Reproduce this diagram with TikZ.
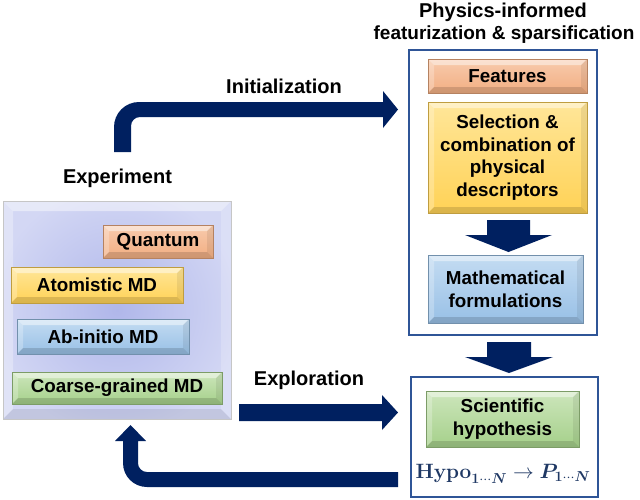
\documentclass[tikz,border=0pt]{standalone}
\usepackage[no-math]{fontspec}
\setmainfont{Liberation Sans}
\usepackage{amsmath,bm}
\definecolor{navy}{HTML}{002060}
\definecolor{framec}{HTML}{2F5597}
\definecolor{formc}{HTML}{1F3864}
\definecolor{orgA}{HTML}{F8CBAD}\definecolor{orgB}{HTML}{F2AE82}
\definecolor{yelA}{HTML}{FFE699}\definecolor{yelB}{HTML}{FFD256}
\definecolor{bluA}{HTML}{C4DCF2}\definecolor{bluB}{HTML}{98C0E6}
\definecolor{grnA}{HTML}{CDE6BC}\definecolor{grnB}{HTML}{A5D08A}
\definecolor{lavA}{HTML}{B0B7EA}\definecolor{lavB}{HTML}{D3D7F4}
\tikzset{
  bevel/.style={line width=.5pt,
    inner sep=0pt, align=center, font=\bfseries\fontsize{18.8}{22.7}\selectfont,
    path picture={
      \fill[white,opacity=.45] (path picture bounding box.north west) -- (path picture bounding box.north east)
        -- ([shift={(-6,6)}]path picture bounding box.north east) -- ([shift={(6,6)}]path picture bounding box.north west) -- cycle;
      \fill[white,opacity=.25] (path picture bounding box.north west) -- (path picture bounding box.south west)
        -- ([shift={(6,-6)}]path picture bounding box.south west) -- ([shift={(6,6)}]path picture bounding box.north west) -- cycle;
      \fill[black,opacity=.07] (path picture bounding box.north east) -- (path picture bounding box.south east)
        -- ([shift={(-6,-6)}]path picture bounding box.south east) -- ([shift={(-6,6)}]path picture bounding box.north east) -- cycle;
      \fill[black,opacity=.14] (path picture bounding box.south west) -- (path picture bounding box.south east)
        -- ([shift={(-6,-6)}]path picture bounding box.south east) -- ([shift={(6,-6)}]path picture bounding box.south west) -- cycle;
    }},
  orangebox/.style={bevel, top color=orgA, bottom color=orgB, draw=orgB!75!black},
  yellowbox/.style={bevel, top color=yelA, bottom color=yelB, draw=yelB!75!black},
  bluebox/.style={bevel, top color=bluA, bottom color=bluB, draw=bluB!75!black},
  greenbox/.style={bevel, top color=grnA, bottom color=grnB, draw=grnB!75!black},
  lavbox/.style={fill=lavB, draw=gray!45, line width=.6pt, inner sep=0pt,
    path picture={
      \shade[inner color=lavA, outer color=lavB] (path picture bounding box.center) circle[radius=125];
      \fill[white,opacity=.45] (path picture bounding box.north west) -- (path picture bounding box.north east)
        -- ([shift={(-10,10)}]path picture bounding box.north east) -- ([shift={(10,10)}]path picture bounding box.north west) -- cycle;
      \fill[white,opacity=.3] (path picture bounding box.north west) -- (path picture bounding box.south west)
        -- ([shift={(10,-10)}]path picture bounding box.south west) -- ([shift={(10,10)}]path picture bounding box.north west) -- cycle;
      \fill[white,opacity=.2] (path picture bounding box.north east) -- (path picture bounding box.south east)
        -- ([shift={(-10,-10)}]path picture bounding box.south east) -- ([shift={(-10,10)}]path picture bounding box.north east) -- cycle;
      \fill[black,opacity=.08] (path picture bounding box.south west) -- (path picture bounding box.south east)
        -- ([shift={(-10,-10)}]path picture bounding box.south east) -- ([shift={(10,-10)}]path picture bounding box.south west) -- cycle;
    }},
  frame/.style={draw=framec, line width=2.6pt, inner sep=0pt},
  lbl/.style={font=\bfseries\fontsize{20}{24}\selectfont, inner sep=0pt},
  blockarrow/.style={fill=navy},
}
\begin{document}
\begin{tikzpicture}[x=1pt,y=-1pt]
\useasboundingbox (0,0) rectangle (640,499);
% titles and labels
\node[lbl] (t1) at (503,12) {Physics-informed};
\node[lbl, font=\bfseries\fontsize{19}{23}\selectfont] (t2) at (504,35) {featurization \& sparsification};
\node[lbl] (init) at (284,86) {Initialization};
\node[lbl] (expl) at (309,380) {Exploration};
\node[lbl] (exp) at (117.5,178) {Experiment};
% experiment box
\node[lavbox, minimum width=228, minimum height=218] (ebox) at (117,310) {};
\node[orangebox, minimum width=110, minimum height=33] (q) at (158,241.5) {Quantum};
\node[yellowbox, minimum width=172, minimum height=36] (am) at (97,285) {Atomistic MD};
\node[bluebox, minimum width=172, minimum height=35] (ab) at (103,336.5) {Ab-initio MD};
\node[greenbox, minimum width=210, minimum height=32] (cg) at (117,388) {Coarse-grained MD};
% right frames
\node[frame, minimum width=188, minimum height=285] (ftop) at (503,192.5) {};
\node[frame, minimum width=187, minimum height=120] (fbot) at (504.5,437) {};
\node[orangebox, minimum width=159, minimum height=34] (feat) at (507.5,76) {Features};
\node[yellowbox, minimum width=159, minimum height=111] (sel) at (507.5,157.5) {Selection \&\\combination of\\physical\\descriptors};
\node[bluebox, minimum width=155, minimum height=68] (math) at (505.5,289) {Mathematical\\formulations};
\node[greenbox, minimum width=153, minimum height=56] (sci) at (502.5,419) {Scientific\\hypothesis};
\node[text=formc, font=\fontsize{20}{24}\selectfont, inner sep=0pt] (hyp) at (503,474)
  {$\mathbf{Hypo}_{\mathbf{1}\cdots\bm{N}}\rightarrow\bm{P}_{\mathbf{1}\cdots\bm{N}}$};
% block arrows
\fill[blockarrow] (114,152) -- (114,127) .. controls (114,113.2) and (125.2,102) .. (139,102) -- (383,102) -- (383,91)
  -- (398,109.5) -- (383,128) -- (383,117) -- (140,117) .. controls (135,117) and (131,121) .. (131,126) -- (131,152) -- cycle;
\fill[blockarrow] (239,404) -- (382,404) -- (382,395) -- (398,412.5) -- (382,430) -- (382,421) -- (239,421) -- cycle;
\fill[blockarrow] (398,472) -- (147,472) .. controls (142,472) and (138,468) .. (138,463) -- (138,441) -- (146,441)
  -- (130.5,425) -- (115,441) -- (123,441) -- (123,463) .. controls (123,476.3) and (133.7,487) .. (147,487) -- (398,487) -- cycle;
\fill[blockarrow] (487,220) -- (530,220) -- (530,235) -- (552,235) -- (508.5,252) -- (465,235) -- (487,235) -- cycle;
\fill[blockarrow] (487,342) -- (531,342) -- (531,357) -- (553,357) -- (509,373) -- (465,357) -- (487,357) -- cycle;
\end{tikzpicture}
\end{document}
